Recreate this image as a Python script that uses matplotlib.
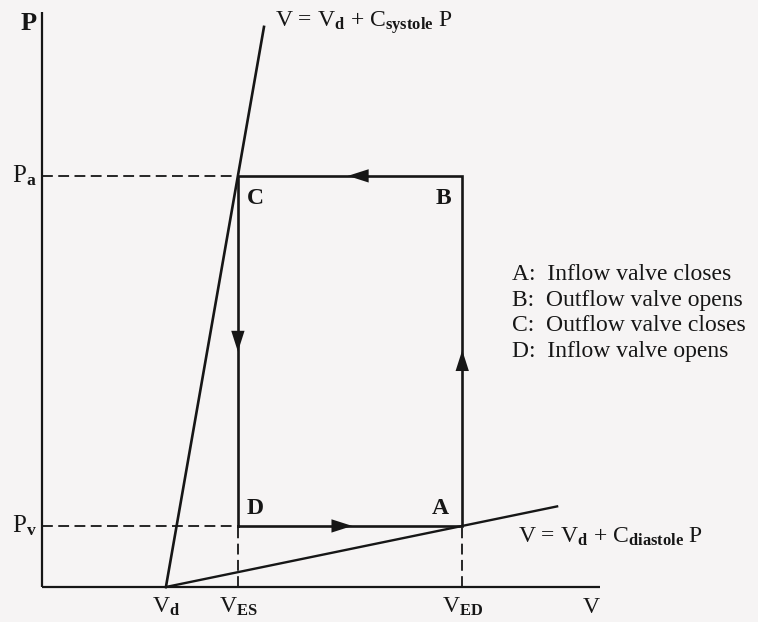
"""
Idealised ventricular pressure-volume loop with systolic and diastolic
compliance lines (V = Vd + C P).
"""

import matplotlib
matplotlib.use("Agg")
import matplotlib.pyplot as plt

plt.rcParams["font.family"] = ["Liberation Serif", "DejaVu Serif"]
plt.rcParams["mathtext.fontset"] = "custom"
plt.rcParams["mathtext.rm"] = "Liberation Serif"
plt.rcParams["mathtext.it"] = "Liberation Serif:italic"
plt.rcParams["mathtext.bf"] = "Liberation Serif:bold"

# volumes and pressures (arbitrary units)
V_d = 22.2
V_ES = 35.1
V_ED = 75.3
P_a = 73.4
P_v = 10.9
V_axis_max = 100.0
P_axis_max = 102.7
P_systole_top = 100.0
V_diastole_top = 92.3

# loop corners D -> A -> B -> C -> D
loop_V = [V_ES, V_ED, V_ED, V_ES, V_ES]
loop_P = [P_v, P_v, P_a, P_a, P_v]

legend_lines = [
    "A:  Inflow valve closes",
    "B:  Outflow valve opens",
    "C:  Outflow valve closes",
    "D:  Inflow valve opens",
]

C_systole = (V_ES - V_d) / P_a
C_diastole = (V_ED - V_d) / P_v

INK = "#161616"
PAPER = "#f6f4f4"

fig = plt.figure(figsize=(7.58, 6.22), dpi=100, facecolor=PAPER)
ax = fig.add_axes([0, 0, 1, 1])
ax.set_facecolor(PAPER)
ax.set_xlim(-7.53, 128.3)
ax.set_ylim(-6.25, 104.8)
ax.axis("off")

# axes
ax.plot([0, 0], [0, P_axis_max], color=INK, lw=1.6, solid_capstyle="butt")
ax.plot([0, V_axis_max], [0, 0], color=INK, lw=1.6, solid_capstyle="butt")

# compliance lines
ax.plot([V_d, V_d + C_systole * P_systole_top], [0, P_systole_top],
        color=INK, lw=1.9)
ax.plot([V_d, V_diastole_top], [0, (V_diastole_top - V_d) / C_diastole],
        color=INK, lw=1.7)

# dashed guides
dash = dict(color=INK, lw=1.3, ls=(0, (6, 3)))
ax.plot([0, V_ES], [P_a, P_a], **dash)
ax.plot([0, V_ES], [P_v, P_v], **dash)
ax.plot([V_ES, V_ES], [0, P_v], **dash)
ax.plot([V_ED, V_ED], [0, P_v], **dash)

# loop
ax.plot(loop_V, loop_P, color=INK, lw=1.9, solid_joinstyle="miter")

# direction arrows at segment midpoints
for i in range(4):
    v0, v1 = loop_V[i], loop_V[i + 1]
    p0, p1 = loop_P[i], loop_P[i + 1]
    vm, pm = (v0 + v1) / 2, (p0 + p1) / 2
    dv, dp = (v1 - v0) * 0.01, (p1 - p0) * 0.01
    ax.annotate("", xy=(vm + dv, pm + dp), xytext=(vm - dv, pm - dp),
                arrowprops=dict(arrowstyle="-|>,head_length=1.0,head_width=0.32",
                                color=INK, lw=0, mutation_scale=15))

# corner letters
fs = 17
ax.text(V_ES + 1.6, P_a - 2.2, "C", fontsize=fs, fontweight="bold",
        ha="left", va="top", color=INK)
ax.text(V_ED - 2.0, P_a - 2.2, "B", fontsize=fs, fontweight="bold",
        ha="right", va="top", color=INK)
ax.text(V_ES + 1.6, P_v + 1.2, "D", fontsize=fs, fontweight="bold",
        ha="left", va="bottom", color=INK)
ax.text(V_ED - 2.4, P_v + 1.2, "A", fontsize=fs, fontweight="bold",
        ha="right", va="bottom", color=INK)

# axis labels
ax.text(-3.9, 100.6, "P", fontsize=19, fontweight="bold", ha="left",
        va="center", color=INK)
ax.text(-1.0, P_a - 1.1, r"P$_\mathbf{a}$", fontsize=18, ha="right",
        va="baseline", color=INK)
ax.text(-1.0, P_v - 1.1, r"P$_\mathbf{v}$", fontsize=18, ha="right",
        va="baseline", color=INK)
ax.text(V_d, -4.6, r"V$_\mathbf{d}$", fontsize=fs, ha="center",
        va="baseline", color=INK)
ax.text(V_ES, -4.6, r"V$_\mathbf{ES}$", fontsize=fs, ha="center",
        va="baseline", color=INK)
ax.text(V_ED, -4.6, r"V$_\mathbf{ED}$", fontsize=fs, ha="center",
        va="baseline", color=INK)
ax.text(V_axis_max - 1.5, -4.6, "V", fontsize=fs, ha="center",
        va="baseline", color=INK)

# line equations
ax.text(41.8, 100.1, r"V = V$_\mathbf{d}$ + C$_\mathbf{systole}$ P",
        fontsize=fs, ha="left", va="baseline", color=INK)
ax.text(85.3, 7.9, r"V = V$_\mathbf{d}$ + C$_\mathbf{diastole}$ P",
        fontsize=fs, ha="left", va="baseline", color=INK)

# event legend
ax.text(84.3, 57.6, "\n".join(legend_lines), fontsize=fs, ha="left",
        va="top", linespacing=1.28, color=INK)

fig.savefig("out.png", dpi=100, facecolor=fig.get_facecolor())
